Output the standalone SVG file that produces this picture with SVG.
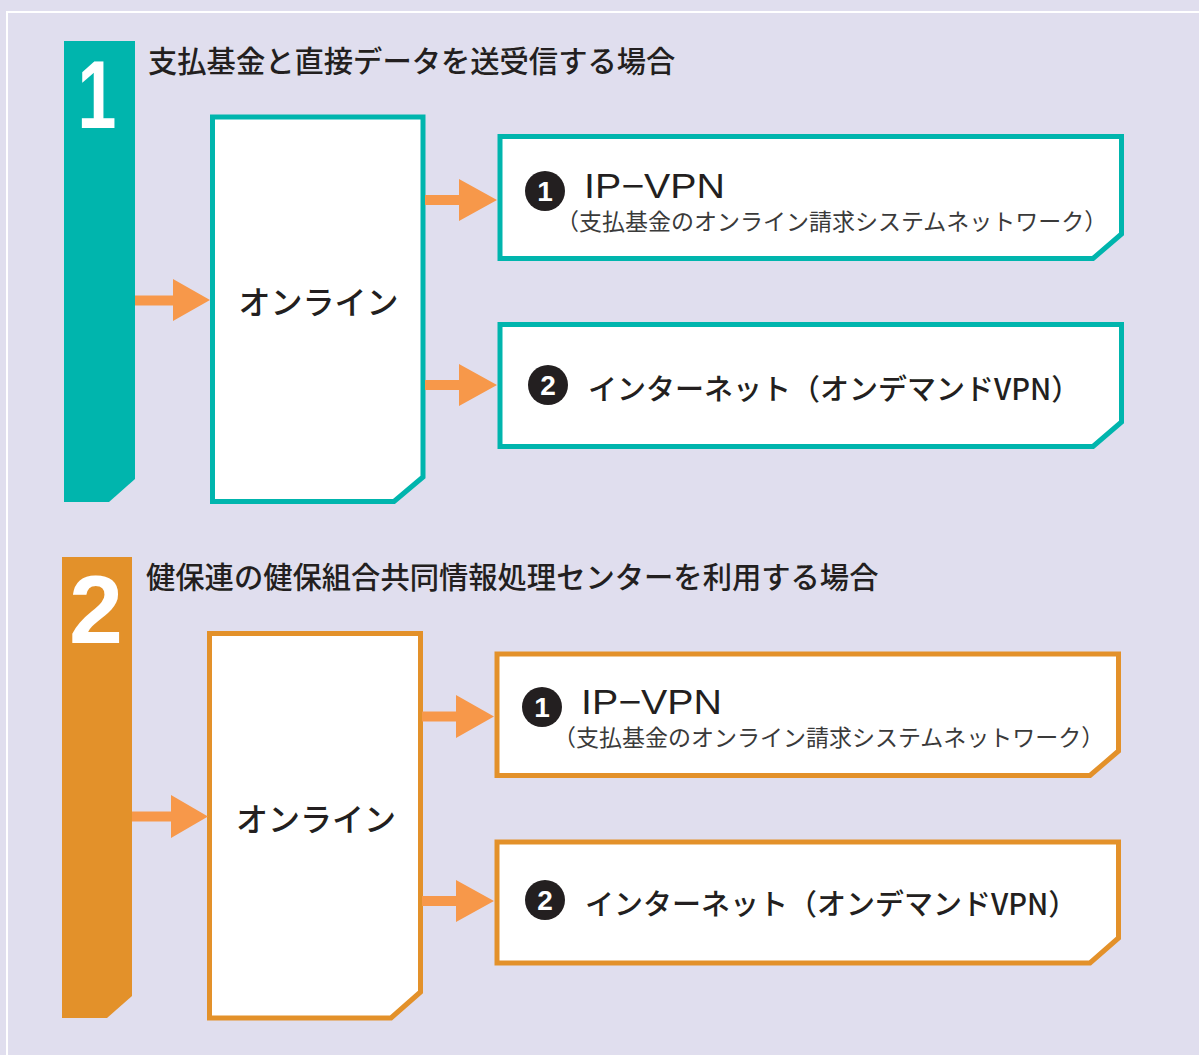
<svg xmlns="http://www.w3.org/2000/svg" width="1199" height="1055" viewBox="0 0 1199 1055">
<style>
.jp{font-family:"Noto Sans CJK JP","Noto Sans",sans-serif;fill:#231f20}
.title{font-size:29.3px;font-weight:500}
.online{font-size:32px;font-weight:500}
.main{font-size:29px;font-weight:500}
.sub{font-size:23px;font-weight:400;fill:#3a3a3a}
.vpn{font-family:"Liberation Sans","Noto Sans",sans-serif;font-size:35px;fill:#231f20}
.big{font-family:"Liberation Sans",sans-serif;font-weight:bold;font-size:97px;fill:#fff}
.num{font-family:"Liberation Sans",sans-serif;font-weight:bold;font-size:28px;fill:#fff}
.dot{fill:#231f20}
.teal{fill:#fff;stroke:#00b5ad;stroke-width:5}
.orng{fill:#fff;stroke:#e3912a;stroke-width:5}
.arrow{fill:#f7984a}
</style>
<rect width="1199" height="1055" fill="#e0deee"/>
<rect x="7" y="12" width="1200" height="1060" fill="none" stroke="#fff" stroke-width="2"/>

<g id="section1">
<g id="bar1">
<polygon points="64,41 135,41 135,479 109,502 64,502" fill="#00b5ad"/>
<text class="big" transform="translate(97,128) scale(0.72,1)" text-anchor="middle">1</text>
</g>
<text class="jp title" x="148" y="72">支払基金と直接データを送受信する場合</text>
<g id="online1">
<polygon class="teal" points="212.5,117 423,117 423,477 394,501.5 212.5,501.5"/>
<text class="jp online" x="318.5" y="314" text-anchor="middle">オンライン</text>
</g>
<g id="ipvpn1">
<polygon class="teal" points="500,136.5 1121.5,136.5 1121.5,234 1093,258.5 500,258.5"/>
<circle class="dot" cx="545" cy="191" r="20"/>
<text class="num" x="545" y="201" text-anchor="middle">1</text>
<text class="vpn" x="584" y="198" textLength="141" lengthAdjust="spacingAndGlyphs">IP−VPN</text>
<text class="jp sub" x="556" y="230">（支払基金のオンライン請求システムネットワーク）</text>
</g>
<g id="internet1">
<polygon class="teal" points="500,324.5 1121.5,324.5 1121.5,422 1093,446.5 500,446.5"/>
<circle class="dot" cx="548" cy="385" r="20"/>
<text class="num" x="548" y="395" text-anchor="middle">2</text>
<text class="jp main" x="588" y="400">インターネット（オンデマンドVPN）</text>
</g>
</g>

<g id="section2">
<g id="bar2">
<polygon points="62,557 132,557 132,996 107,1018 62,1018" fill="#e3912a"/>
<text class="big" x="96" y="643" text-anchor="middle">2</text>
</g>
<text class="jp title" x="146" y="588">健保連の健保組合共同情報処理センターを利用する場合</text>
<g id="online2">
<polygon class="orng" points="209.5,633.5 420.5,633.5 420.5,992 391,1018 209.5,1018"/>
<text class="jp online" x="316" y="831" text-anchor="middle">オンライン</text>
</g>
<g id="ipvpn2">
<polygon class="orng" points="497,654 1118.5,654 1118.5,751 1090,775.5 497,775.5"/>
<circle class="dot" cx="542" cy="707" r="20"/>
<text class="num" x="542" y="717" text-anchor="middle">1</text>
<text class="vpn" x="581" y="714" textLength="141" lengthAdjust="spacingAndGlyphs">IP−VPN</text>
<text class="jp sub" x="553" y="746">（支払基金のオンライン請求システムネットワーク）</text>
</g>
<g id="internet2">
<polygon class="orng" points="497,842 1118.5,842 1118.5,938 1090,963 497,963"/>
<circle class="dot" cx="545" cy="900" r="20"/>
<text class="num" x="545" y="910" text-anchor="middle">2</text>
<text class="jp main" x="585" y="915">インターネット（オンデマンドVPN）</text>
</g>
</g>

<g id="connectors">
<polygon class="arrow" points="135,295.5 173,295.5 173,279 210,300 173,321 173,305.5 135,305.5"/>
<polygon class="arrow" points="425,195 459,195 459,179 497,200 459,221 459,205 425,205"/>
<polygon class="arrow" points="425,380 459,380 459,364 497,385 459,406 459,390 425,390"/>
<polygon class="arrow" points="132,811.5 171,811.5 171,795 208,816.5 171,838 171,821.5 132,821.5"/>
<polygon class="arrow" points="422,711.5 456,711.5 456,695 494,716.5 456,738 456,721.5 422,721.5"/>
<polygon class="arrow" points="422,896 456,896 456,880 494,901 456,922 456,906 422,906"/>
</g>
</svg>
